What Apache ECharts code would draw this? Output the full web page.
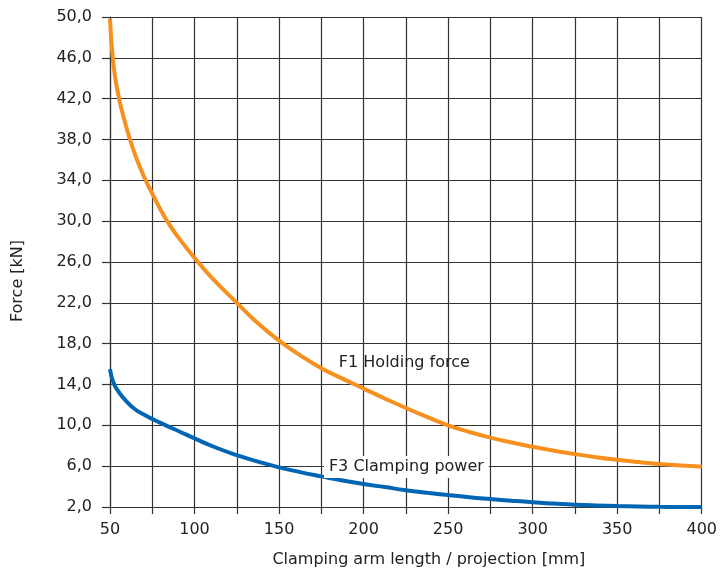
<!DOCTYPE html>
<html>
<head>
<meta charset="utf-8">
<script src="https://cdn.jsdelivr.net/npm/echarts@6/dist/echarts.min.js"></script>
<style>
  html, body { margin: 0; padding: 0; background: #fff; }
  #chart { width: 720px; height: 573px; }
</style>
</head>
<body>
<div id="chart"></div>
<script>
// F1 holding force [kN] over arm length [mm]
var f1X = [50, 52, 55, 58, 62, 66, 70, 75, 80, 85, 90, 100, 110, 125, 137.5, 150, 162.5, 175, 187.5, 200, 212.5, 225, 237.5, 250, 262.5, 275, 287.5, 300, 312.5, 325, 337.5, 350, 362.5, 375, 387.5, 400];
var f1Y = [49.8, 45.4, 42.3, 40.2, 37.9, 36.0, 34.4, 32.7, 31.1, 29.7, 28.5, 26.4, 24.5, 22.0, 20.0, 18.3, 16.85, 15.6, 14.58, 13.6, 12.63, 11.7, 10.83, 10.0, 9.35, 8.8, 8.32, 7.9, 7.52, 7.18, 6.88, 6.62, 6.4, 6.21, 6.06, 5.95];
// F3 clamping power [kN]
var f3X = [50, 52, 55, 60, 65, 70, 75, 83, 91, 100, 112.5, 125, 137.5, 150, 162.5, 175, 187.5, 200, 212.5, 225, 237.5, 250, 262.5, 275, 287.5, 300, 312.5, 325, 337.5, 350, 362.5, 375, 387.5, 400];
var f3Y = [15.5, 14.2, 13.3, 12.3, 11.55, 11.05, 10.62, 10.0, 9.4, 8.72, 7.83, 7.08, 6.45, 5.88, 5.42, 5.0, 4.6, 4.25, 3.95, 3.65, 3.4, 3.17, 2.96, 2.78, 2.61, 2.46, 2.34, 2.23, 2.15, 2.09, 2.05, 2.02, 2.0, 2.0];

function pairs(xs, ys) {
  return xs.map(function (x, i) { return [x, ys[i]]; });
}

var font = "'DejaVu Sans', sans-serif";
var textColor = '#222';
var gridColor = '#333';

var chart = echarts.init(document.getElementById('chart'));
var option = {
  animation: false,
  grid: { left: 110, right: 16, top: 17, bottom: 65 },
  xAxis: {
    type: 'value',
    min: 50,
    max: 400,
    interval: 25,
    name: 'Clamping arm length / projection [mm]',
    nameLocation: 'middle',
    nameGap: 45,
    nameTextStyle: { fontFamily: font, fontSize: 16, color: textColor, padding: [0, 0, 0, 46] },
    axisLine: { lineStyle: { color: gridColor, width: 1.2 } },
    axisTick: { show: true, length: 7, lineStyle: { color: gridColor, width: 1.2 } },
    axisLabel: {
      margin: 15,
      fontFamily: font, fontSize: 16, color: textColor,
      formatter: function (v) { return v % 50 === 0 ? String(v) : ''; }
    },
    splitLine: { show: true, lineStyle: { color: gridColor, width: 1.2 } }
  },
  yAxis: {
    type: 'value',
    min: 2,
    max: 50,
    interval: 4,
    name: 'Force [kN]',
    nameLocation: 'middle',
    nameGap: 84,
    nameRotate: 90,
    nameTextStyle: { fontFamily: font, fontSize: 16, color: textColor, padding: [0, 38, 0, 0] },
    axisLine: { show: true, lineStyle: { color: gridColor, width: 1.2 } },
    axisTick: { show: true, length: 8, lineStyle: { color: gridColor, width: 1.2 } },
    axisLabel: {
      margin: 18,
      fontFamily: font, fontSize: 16, color: textColor,
      formatter: function (v) { return v.toFixed(1).replace('.', ','); }
    },
    splitLine: { show: true, lineStyle: { color: gridColor, width: 1.2 } }
  },
  series: [
    {
      name: 'F1 Holding force',
      type: 'line',
      smooth: 0.5,
      symbol: 'none',
      lineStyle: { color: '#f7901e', width: 4 },
      data: pairs(f1X, f1Y),
      markPoint: {
        symbol: 'rect',
        symbolSize: 0,
        data: [{ coord: [224.1, 16.1] }],
        label: {
          show: true, position: 'inside',
          formatter: 'F1 Holding force',
          fontFamily: font, fontSize: 16, color: textColor
        }
      },
      z: 3
    },
    {
      name: 'F3 Clamping power',
      type: 'line',
      smooth: 0.5,
      symbol: 'none',
      lineStyle: { color: '#0066b3', width: 4 },
      data: pairs(f3X, f3Y),
      markPoint: {
        symbol: 'rect',
        symbolSize: 0,
        data: [{ coord: [225.3, 5.91] }],
        label: {
          show: true, position: 'inside',
          formatter: 'F3 Clamping power',
          fontFamily: font, fontSize: 16, color: textColor,
          backgroundColor: '#fff',
          padding: [3, 5, 3, 5]
        }
      },
      z: 3
    }
  ]
};
chart.setOption(option);
</script>
</body>
</html>
